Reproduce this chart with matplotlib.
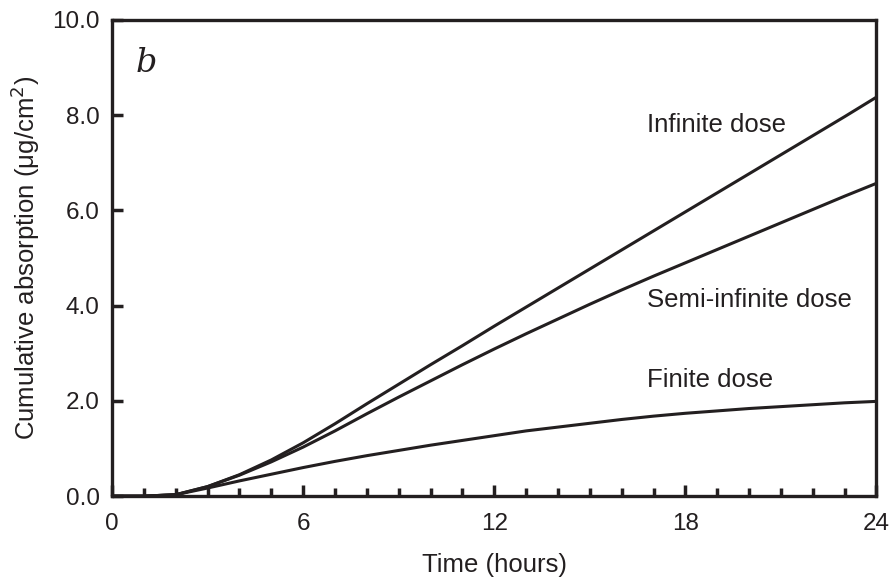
import numpy as np
import matplotlib.pyplot as plt

plt.rcParams['font.family'] = ['Liberation Sans', 'DejaVu Sans']

# data (hours, ug/cm2)
hours = np.arange(0, 25)
infinite = [0, 0, 0.03, 0.2, 0.45, 0.76, 1.12, 1.52, 1.94, 2.35, 2.76, 3.16, 3.57,
            3.97, 4.37, 4.77, 5.17, 5.57, 5.97, 6.37, 6.77, 7.17, 7.57, 7.97, 8.38]
semi_infinite = [0, 0, 0.03, 0.2, 0.44, 0.72, 1.03, 1.37, 1.73, 2.08, 2.42, 2.76, 3.09,
                 3.41, 3.72, 4.03, 4.33, 4.62, 4.9, 5.18, 5.46, 5.74, 6.02, 6.3, 6.57]
finite = [0, 0, 0.03, 0.17, 0.32, 0.46, 0.6, 0.73, 0.85, 0.96, 1.07, 1.17, 1.27,
          1.37, 1.45, 1.53, 1.61, 1.68, 1.74, 1.79, 1.84, 1.88, 1.92, 1.96, 1.99]

labels = ['Infinite dose', 'Semi-infinite dose', 'Finite dose']
label_y = [7.8, 4.12, 2.44]

ink = '#231f20'
fs = 17.5     # tick labels
fs_lab = 18.5 # axis labels and curve names

fig = plt.figure(figsize=(8.92, 5.83), dpi=100)
ax = fig.add_axes([0.1256, 0.149, 0.857, 0.8167])

for s in (infinite, semi_infinite, finite):
    ax.plot(hours, s, color=ink, lw=2.2, solid_joinstyle='round')

for lab, yy in zip(labels, label_y):
    ax.text(16.8, yy, lab, fontsize=fs_lab, color=ink, va='center', ha='left')

ax.text(0.75, 9.1, 'b', fontsize=24, style='italic', family='DejaVu Serif',
        color=ink, va='center', ha='left')

ax.set_xlim(0, 24)
ax.set_ylim(0, 10)
ax.set_xticks([0, 6, 12, 18, 24])
ax.set_xticks(np.arange(0, 25), minor=True)
ax.set_yticks([0, 2, 4, 6, 8, 10])
ax.set_yticklabels(['0.0', '2.0', '4.0', '6.0', '8.0', '10.0'])

ax.tick_params(axis='both', which='major', direction='in', length=8, width=2.5,
               labelsize=fs, labelcolor=ink, color=ink)
ax.tick_params(axis='x', which='major', pad=12)
ax.tick_params(axis='y', which='major', pad=9)
ax.tick_params(axis='x', which='minor', direction='in', length=6, width=2.5, color=ink)
ax.tick_params(top=False, right=False, which='both')

for sp in ax.spines.values():
    sp.set_linewidth(2.4)
    sp.set_color(ink)

ax.set_xlabel('Time (hours)', fontsize=fs_lab, color=ink, labelpad=13)
ax.set_ylabel('Cumulative absorption (μg/cm$^2$)', fontsize=fs_lab, color=ink, labelpad=7)

fig.savefig('out.png', dpi=100)
